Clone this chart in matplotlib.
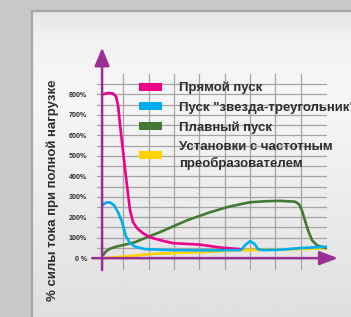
"""Пусковые токи двигателя: четыре способа пуска (matplotlib, headless)."""
import matplotlib
matplotlib.use("Agg")
import matplotlib.pyplot as plt
import numpy as np
from matplotlib.patches import Patch

plt.rcParams["font.family"] = ["Liberation Sans", "DejaVu Sans"]

# --- data (x: time units, y: % of full-load current) ---
direct_x = [0, 0.24, 0.43, 0.55, 0.63, 0.71, 0.83, 0.98, 1.10, 1.22, 1.38, 1.61, 1.89, 2.28, 2.80, 3.86, 4.65, 5.43]
direct_y = [800, 807, 805, 790, 746, 649, 517, 356, 234, 176, 146, 122, 102, 88, 73, 66, 52, 44]

stardelta_x = [0, 0.16, 0.31, 0.47, 0.63, 0.79, 0.94, 1.10, 1.30, 1.69, 2.68, 3.86, 5.43,
               5.51, 5.63, 5.83, 6.02, 6.14, 6.30, 7.01, 7.80, 8.86]
stardelta_y = [259, 271, 273, 259, 224, 176, 107, 73, 56, 44, 39, 38, 39,
               44, 63, 83, 68, 44, 39, 41, 49, 56]

soft_x = [0.04, 0.16, 0.31, 0.55, 0.91, 1.30, 1.69, 2.28, 3.35, 4.25, 4.92, 5.43, 5.83, 6.42, 7.01,
          7.60, 7.76, 7.87, 7.99, 8.11, 8.27, 8.46, 8.66, 8.86]
soft_y = [15, 34, 46, 56, 66, 78, 98, 127, 185, 224, 249, 263, 273, 278, 280,
          276, 263, 234, 185, 137, 88, 63, 54, 49]

vfd_x = [0.04, 1.10, 1.89, 3.86, 5.43, 7.80, 8.86]
vfd_y = [0, 10, 20, 29, 39, 44, 49]

labels = ["Прямой пуск", "Пуск \"звезда-треугольник\"", "Плавный пуск",
          "Установки с частотным\nпреобразователем"]
colors = ["#ec008c", "#00aeef", "#437a33", "#ffd200"]

y_ticks = list(range(0, 900, 100))
y_ticklabels = [f"{v}%" if v else "0 %" for v in y_ticks]
x_grid = [0.83 + k for k in range(8)]

W, H = 351, 317
purple = "#9a2f96"
text_c = "#2e2e2e"

fig = plt.figure(figsize=(W / 100, H / 100), dpi=100)
fig.patch.set_facecolor("#c8c8c8")

# background panel (gradient, pixel coords)
bg = fig.add_axes([0, 0, 1, 1], zorder=-1)
bg.set_xlim(0, W); bg.set_ylim(H, 0); bg.axis("off")
rows = np.linspace(0, 1, 200)
shade = np.interp(rows, [0, 0.12, 0.3, 1.0], [0.905, 0.955, 0.965, 0.875])
grad = np.repeat(shade[:, None], 2, axis=1)
bg.imshow(grad, cmap="gray", vmin=0, vmax=1, extent=(32, W, H, 11), aspect="auto")
bg.plot([31.5, 31.5, W], [H, 10.5, 10.5], color="#a6a6a6", lw=1.6)

# main axes: x px = 102 + 25.4*x, y px = 258 - 0.205*y
ax = fig.add_axes([97 / W, 1 - 270 / H, 230 / W, 196 / H])
ax.set_facecolor("none")
ax.set_xlim(-0.2, 8.86)
ax.set_ylim(-58, 900)
for s in ax.spines.values():
    s.set_visible(False)
ax.set_xticks(x_grid)
ax.set_xticklabels([])
ax.set_yticks(y_ticks)
ax.set_yticklabels(y_ticklabels, fontsize=5.1, fontweight="bold", color=text_c)
ax.set_yticks(range(50, 900, 100), minor=True)
ax.tick_params(which="both", length=0, pad=7)
ax.grid(True, which="both", color="#a4a4a4", lw=0.9)
ax.set_axisbelow(True)

lw = 1.9
ax.plot(vfd_x, vfd_y, color=colors[3], lw=lw, zorder=3, solid_capstyle="round")
ax.plot(soft_x, soft_y, color=colors[2], lw=lw, zorder=4, solid_capstyle="round")
ax.plot(direct_x, direct_y, color=colors[0], lw=lw, zorder=5, solid_capstyle="round")
ax.plot(stardelta_x, stardelta_y, color=colors[1], lw=lw, zorder=6, solid_capstyle="round")

# axes arrows
ax.annotate("", xy=(0, 1029), xytext=(0, -58), annotation_clip=False, zorder=7,
            arrowprops=dict(arrowstyle="-|>,head_length=1.1,head_width=0.45", color=purple,
                            lw=1.8, shrinkA=0, shrinkB=0, mutation_scale=10))
ax.annotate("", xy=(9.29, 0), xytext=(-0.39, 0), annotation_clip=False, zorder=7,
            arrowprops=dict(arrowstyle="-|>,head_length=1.1,head_width=0.42", color=purple,
                            lw=1.8, shrinkA=0, shrinkB=0, mutation_scale=10))

fs = 9.5
handles = [Patch(facecolor=c, edgecolor="none") for c in colors]
leg = ax.legend(handles, labels, loc="upper left", bbox_to_anchor=(139 / W, 1 - 82 / H),
                bbox_transform=fig.transFigure, frameon=False,
                prop=dict(weight="bold", size=fs), handlelength=1.75, handleheight=0.53,
                handletextpad=1.3, labelspacing=0.55, borderaxespad=0, borderpad=0)
for t in leg.get_texts():
    t.set_color(text_c)
    t.set_linespacing(1.38)

fig.text(53 / W, 1 - 190 / H, "% силы тока при полной нагрузке", rotation=90,
         ha="center", va="center", fontsize=fs, fontweight="bold", color=text_c)

fig.savefig("out.png", dpi=100)
